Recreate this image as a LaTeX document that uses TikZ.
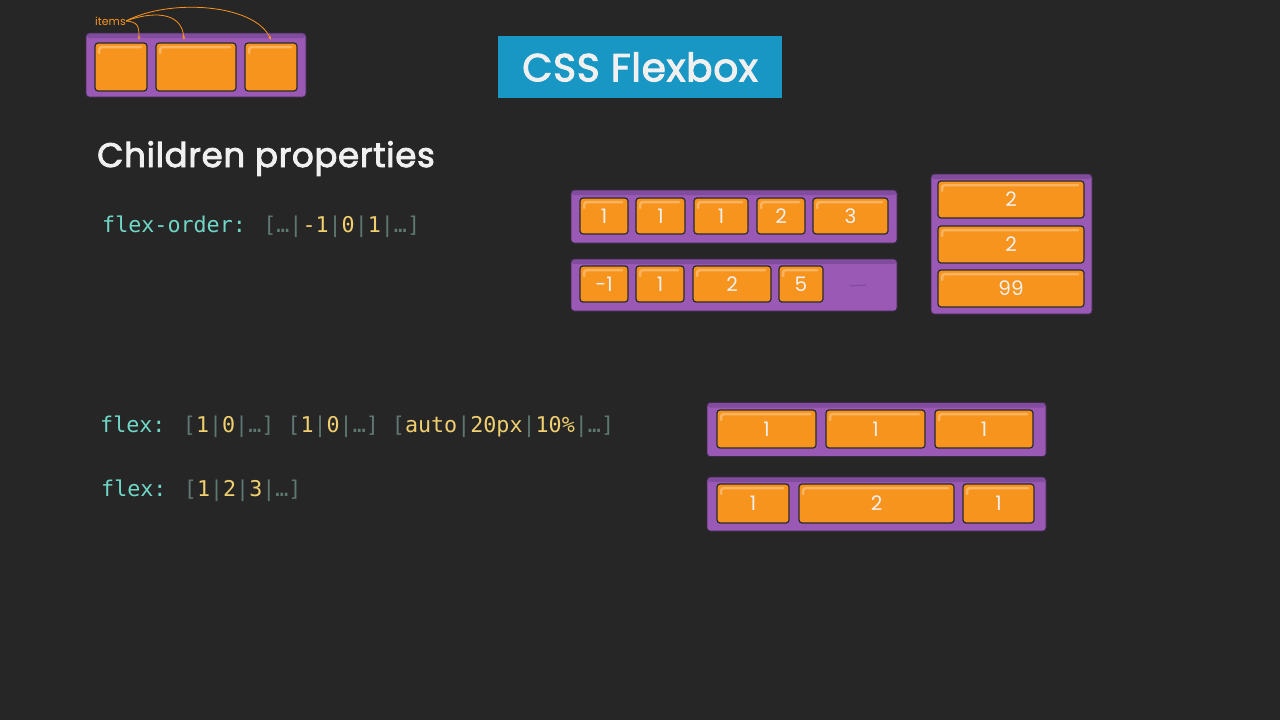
\documentclass[tikz,border=0pt]{standalone}
\usepackage{fontspec}
\setmainfont{Poppins}
\newfontfamily\codefont{DejaVu Sans Mono}
\newfontfamily\headfont[FakeBold=2.6,LetterSpace=2]{Poppins}
\usetikzlibrary{arrows.meta}
\definecolor{bg}{HTML}{262626}
\definecolor{titleblue}{HTML}{1896C4}
\definecolor{purp}{HTML}{9B59B6}
\definecolor{purpdark}{HTML}{824C9E}
\definecolor{purpline}{HTML}{3C2A46}
\definecolor{orng}{HTML}{F7941E}
\definecolor{orngl}{HTML}{FBB562}
\definecolor{boxline}{HTML}{2A2A2A}
\definecolor{keyc}{HTML}{70D7C7}
\definecolor{grayc}{HTML}{5E7772}
\definecolor{valc}{HTML}{F0CF6F}
\definecolor{txtw}{HTML}{F0F0F0}
\newcommand{\ckey}[1]{\textcolor{keyc}{#1}}
\newcommand{\cgr}[1]{\textcolor{grayc}{#1}}
\newcommand{\cval}[1]{\textcolor{valc}{#1}}
\begin{document}
\begin{tikzpicture}[x=1pt,y=-1pt,
  cont/.style={draw=purpline, line width=0.9pt, fill=purp, rounded corners=3pt, inner sep=0pt,
    path picture={\fill[purpdark] ([shift={(0pt,-5pt)}]path picture bounding box.north west) rectangle (path picture bounding box.north east);}},
  obox/.style={draw=boxline, line width=1.2pt, fill=orng, rounded corners=3pt, inner sep=0pt,
    text=txtw, font=\fontsize{20}{20}\selectfont,
    path picture={\draw[orngl, line width=2.5pt, line cap=round]
      ([shift={(4pt,-10pt)}]path picture bounding box.north west) --
      ([shift={(4pt,-4pt)}]path picture bounding box.north west) --
      ([shift={(-6pt,-4pt)}]path picture bounding box.north east);}},
  code/.style={anchor=base west, inner sep=0pt, font=\codefont\fontsize{21.7}{21.7}\selectfont},
  arr/.style={draw=orng, line width=0.8pt, -{Stealth[length=4pt,width=3pt]}}
]
\useasboundingbox (0,0) rectangle (1280,720);
\fill[bg] (0,0) rectangle (1280,720);

% title
\node[fill=titleblue, minimum width=284, minimum height=62, inner sep=0pt, text=txtw,
  font=\headfont\fontsize{39}{39}\selectfont] (title) at (640,67) {CSS Flexbox};

% top-left illustration
\node[cont, minimum width=220, minimum height=64] (tl) at (196,65) {};
\node[obox, minimum width=52, minimum height=48] (t1) at (121,67) {};
\node[obox, minimum width=80, minimum height=48] (t2) at (196,67) {};
\node[obox, minimum width=52, minimum height=48] (t3) at (271,67) {};
\node[text=orng, font=\fontsize{11}{11}\selectfont, inner sep=0pt, anchor=west] (items) at (95,21) {items};
\coordinate (a1) at (139,40);
\coordinate (a2) at (184,40);
\coordinate (a3) at (271,40);
\draw[arr] (items.east) .. controls (138,22) and (139,26) .. (a1);
\draw[arr] (items.east) .. controls (150,12) and (182,10) .. (a2);
\draw[arr] (items.east) .. controls (170,-2) and (255,4) .. (a3);

% heading
\node[text=txtw, font=\headfont\fontsize{34}{34}\selectfont, anchor=base west, inner sep=0pt] (hd) at (97,167) {Children properties};

% code lines
\node[code] (c1) at (102,232) {\ckey{flex-order:} \cgr{[…|}\cval{-1}\cgr{|}\cval{0}\cgr{|}\cval{1}\cgr{|…]}};
\node[code] (c2) at (100,432) {\ckey{flex:} \cgr{[}\cval{1}\cgr{|}\cval{0}\cgr{|…]} \cgr{[}\cval{1}\cgr{|}\cval{0}\cgr{|…]} \cgr{[}\cval{auto}\cgr{|}\cval{20px}\cgr{|}\cval{10\%}\cgr{|…]}};
\node[code] (c3) at (101,496) {\ckey{flex:} \cgr{[}\cval{1}\cgr{|}\cval{2}\cgr{|}\cval{3}\cgr{|…]}};

% flex-order row 1
\node[cont, minimum width=326, minimum height=53] (r1) at (734,216.5) {};
\node[obox, minimum width=48, minimum height=36] (r1a) at (604,216) {1};
\node[obox, minimum width=49, minimum height=36] (r1b) at (660.5,216) {1};
\node[obox, minimum width=54, minimum height=36] (r1c) at (721,216) {1};
\node[obox, minimum width=48, minimum height=36] (r1d) at (781,216) {2};
\node[obox, minimum width=75, minimum height=36] (r1e) at (850.5,216) {3};

% flex-order row 2
\node[cont, minimum width=326, minimum height=52] (r2) at (734,285) {};
\node[obox, minimum width=48, minimum height=36] (r2a) at (604,284) {-1};
\node[obox, minimum width=48, minimum height=36] (r2b) at (660,284) {1};
\node[obox, minimum width=78, minimum height=36] (r2c) at (732,284) {2};
\node[obox, minimum width=44, minimum height=36] (r2d) at (801,284) {5};
\coordinate (m1) at (850,286);
\coordinate (m2) at (866,285);
\draw[purpdark, line width=1.2pt] (m1) -- (m2);

% flex-order column
\node[cont, minimum width=161, minimum height=140] (col) at (1011.5,244) {};
\node[obox, minimum width=146, minimum height=37] (ca) at (1011,199.5) {2};
\node[obox, minimum width=146, minimum height=37] (cb) at (1011,244.5) {2};
\node[obox, minimum width=146, minimum height=37] (cc) at (1011,288.5) {99};

% flex row 1
\node[cont, minimum width=339, minimum height=54] (f1) at (876.5,429.5) {};
\node[obox, minimum width=99, minimum height=38] (f1a) at (766.5,429) {1};
\node[obox, minimum width=99, minimum height=38] (f1b) at (875.5,429) {1};
\node[obox, minimum width=98, minimum height=38] (f1c) at (984,429) {1};

% flex row 2
\node[cont, minimum width=339, minimum height=54] (f2) at (876.5,504) {};
\node[obox, minimum width=72, minimum height=39] (f2a) at (753,503.5) {1};
\node[obox, minimum width=155, minimum height=39] (f2b) at (876.5,503.5) {2};
\node[obox, minimum width=71, minimum height=39] (f2c) at (998.5,503.5) {1};
\end{tikzpicture}
\end{document}
